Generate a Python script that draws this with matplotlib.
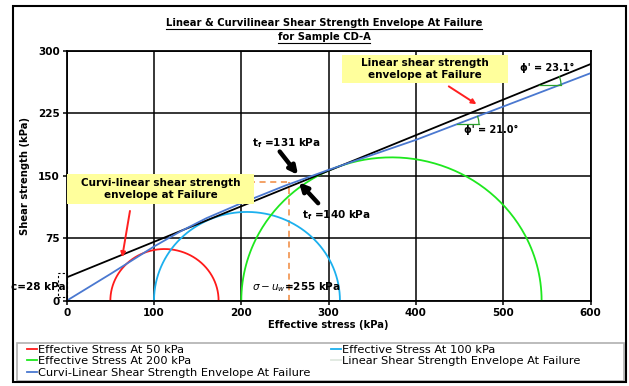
import numpy as np
import matplotlib
matplotlib.use('Agg')
import matplotlib.pyplot as plt
from matplotlib.patches import Rectangle
from matplotlib.lines import Line2D

# data
circle_left = [50, 100, 200]
circle_right = [174, 313, 544]
circle_labels = ['Effective Stress At 50 kPa', 'Effective Stress At 100 kPa', 'Effective Stress At 200 kPa']
circle_colors = ['#ff1a1a', '#1cb0ee', '#1ee81e']

c_lin = 28.0
phi_lin = 23.1
phi_curv = 21.0

curv_x = [0, 50, 100, 130, 160, 200, 250, 300, 400, 500, 600]
curv_y = [0, 32, 65, 83, 99, 117, 138, 157, 193, 233, 273]

sigma_f = 255
tau_f = 142

xticks = [0, 100, 200, 300, 400, 500, 600]
yticks = [0, 75, 150, 225, 300]

plt.rcParams['font.family'] = 'DejaVu Sans'

W, H = 629, 386
fig = plt.figure(figsize=(W/100, H/100), dpi=100)
ax = fig.add_axes([66.7/W, 1-300.7/H, 523.8/W, 250/H])
ax.set_xlim(0, 600)
ax.set_ylim(0, 300)
ax.set_xticks(xticks)
ax.set_yticks(yticks)
ax.grid(True, color='black', lw=1.1)
ax.set_axisbelow(True)
for s in ax.spines.values():
    s.set_linewidth(1.3)
ax.tick_params(length=3, width=1.1, labelsize=7.5, pad=2)
for lab in ax.get_xticklabels() + ax.get_yticklabels():
    lab.set_fontweight('bold')
ax.set_xlabel('Effective stress (kPa)', fontsize=7.2, fontweight='bold', labelpad=2)
ax.set_ylabel('Shear strength (kPa)', fontsize=7.2, fontweight='bold', labelpad=6)

# pixel scale of the axes (for angle marks)
sx = 523.8/600
sy = 250/300

# dashed guide lines
ax.plot([0, sigma_f], [tau_f, tau_f], ls=(0, (4, 3)), color='#f0883c', lw=1.1)
ax.plot([sigma_f, sigma_f], [0, tau_f], ls=(0, (4, 3)), color='#f0883c', lw=1.1)

# Mohr circles
handles = {}
th = np.linspace(0, np.pi, 200)
for l, r, lab, col in zip(circle_left, circle_right, circle_labels, circle_colors):
    cen = (l + r)/2
    rad = (r - l)/2
    h, = ax.plot(cen + rad*np.cos(th), rad*np.sin(th), color=col, lw=1.3, label=lab)
    handles[lab] = h

# envelopes
xl = np.array([0, 600])
ax.plot(xl, c_lin + xl*np.tan(np.radians(phi_lin)), color='black', lw=1.3)
hc, = ax.plot(curv_x, curv_y, color='#4a78d0', lw=1.3)

# yellow boxes
ax.add_patch(Rectangle((0, 116), 215, 36, facecolor='#ffff9c', edgecolor='none', zorder=4))
ax.text(107.5, 134, 'Curvi-linear shear strength\nenvelope at Failure', ha='center', va='center',
        fontsize=7.5, fontweight='bold', zorder=5, linespacing=1.3)
ax.add_patch(Rectangle((315, 261), 190, 34, facecolor='#ffff9c', edgecolor='none', zorder=4))
ax.text(410, 278, 'Linear shear strength\nenvelope at Failure', ha='center', va='center',
        fontsize=7.5, fontweight='bold', zorder=5, linespacing=1.3)

# red arrows
ax.annotate('', xy=(63, 49), xytext=(73, 111),
            arrowprops=dict(arrowstyle='-|>', color='#ff2020', lw=1.4, mutation_scale=7), zorder=6)
ax.annotate('', xy=(472, 234), xytext=(435, 259),
            arrowprops=dict(arrowstyle='-|>', color='#ff2020', lw=1.4, mutation_scale=7), zorder=6)

# tau_f arrows
ax.annotate('', xy=(265, 151), xytext=(244, 179),
            arrowprops=dict(arrowstyle='-|>', color='black', lw=3.2, mutation_scale=12,
                            shrinkA=0, shrinkB=0), zorder=6)
ax.annotate('', xy=(266, 142), xytext=(288, 117),
            arrowprops=dict(arrowstyle='-|>', color='black', lw=3.2, mutation_scale=12,
                            shrinkA=0, shrinkB=0), zorder=6)
ax.text(252, 189, r't$_\mathregular{f}$ =131 kPa', ha='center', va='center', fontsize=7.5, fontweight='bold', zorder=6)
ax.text(309, 103, r't$_\mathregular{f}$ =140 kPa', ha='center', va='center', fontsize=7.5, fontweight='bold', zorder=6)

# sigma label
ax.text(212, 16, r'$\sigma - u_w$=255 kPa', ha='left', va='center', fontsize=7.5, fontweight='bold', zorder=6)

# angle marks
def angle_mark(x0, y0, phi_deg, length=22):
    slope = np.tan(np.radians(phi_deg))*sy/sx
    ang = np.arctan(slope)
    ax.plot([x0, x0 + length/sx], [y0, y0], color='#2ca02c', lw=0.9, zorder=3)
    t = np.linspace(0, ang, 20)
    ax.plot(x0 + length*np.cos(t)/sx, y0 + length*np.sin(t)/sy, color='#2ca02c', lw=0.9, zorder=3)

angle_mark(541, c_lin + 541*np.tan(np.radians(phi_lin)), phi_lin)
angle_mark(447, 212, phi_curv)
ax.text(550, 279, "ϕ' = 23.1°", ha='center', va='center', fontsize=7, fontweight='bold', zorder=6)
ax.text(486, 205, "ϕ' = 21.0°", ha='center', va='center', fontsize=7, fontweight='bold', zorder=2)

# cohesion mark
ax.add_patch(Rectangle((-10, 4), 10, 29, fill=False, ls=(0, (2, 2)), lw=0.8,
                       edgecolor='black', clip_on=False, zorder=6))
ax.text(-1, 17, 'c=28 kPa', ha='right', va='center', fontsize=7.5, fontweight='bold', zorder=7)

# legend
lin_proxy = Line2D([], [], color='#dfe8df', lw=1.3)
leg_h = [handles[circle_labels[0]], handles[circle_labels[2]], hc, handles[circle_labels[1]], lin_proxy]
leg_l = [circle_labels[0], circle_labels[2], 'Curvi-Linear Shear Strength Envelope At Failure',
         circle_labels[1], 'Linear Shear Strength Envelope At Failure']
fig.legend(leg_h, leg_l, loc='upper left', bbox_to_anchor=(20/W, 1-338.5/H),
           ncol=2, fontsize=8.2, handlelength=0.9, handletextpad=0.1,
           borderpad=0.1, labelspacing=0.1, columnspacing=1.75, frameon=False)
fig.add_artist(Rectangle((17/W, 1-380.7/H), 607/W, 38/H, fill=False, edgecolor='#b0b0b0', lw=1.2,
                         transform=fig.transFigure))

# title with underline
t1 = fig.text(324/W, 1-23/H, 'Linear & Curvilinear Shear Strength Envelope At Failure',
              ha='center', va='center', fontsize=7.2, fontweight='bold')
t2 = fig.text(324/W, 1-37/H, 'for Sample CD-A', ha='center', va='center', fontsize=7.2, fontweight='bold')
fig.canvas.draw()
r = fig.canvas.get_renderer()
for t in (t1, t2):
    bb = t.get_window_extent(r)
    yline = (bb.y0 - 0.5)/H
    fig.add_artist(Line2D([bb.x0/W, bb.x1/W], [yline, yline], color='black', lw=0.8))

# outer frame
fig.add_artist(Rectangle((13/W, 4/H), 613/W, 376/H, fill=False, edgecolor='black', lw=1.5,
                         transform=fig.transFigure))

fig.savefig('out.png', dpi=100)
